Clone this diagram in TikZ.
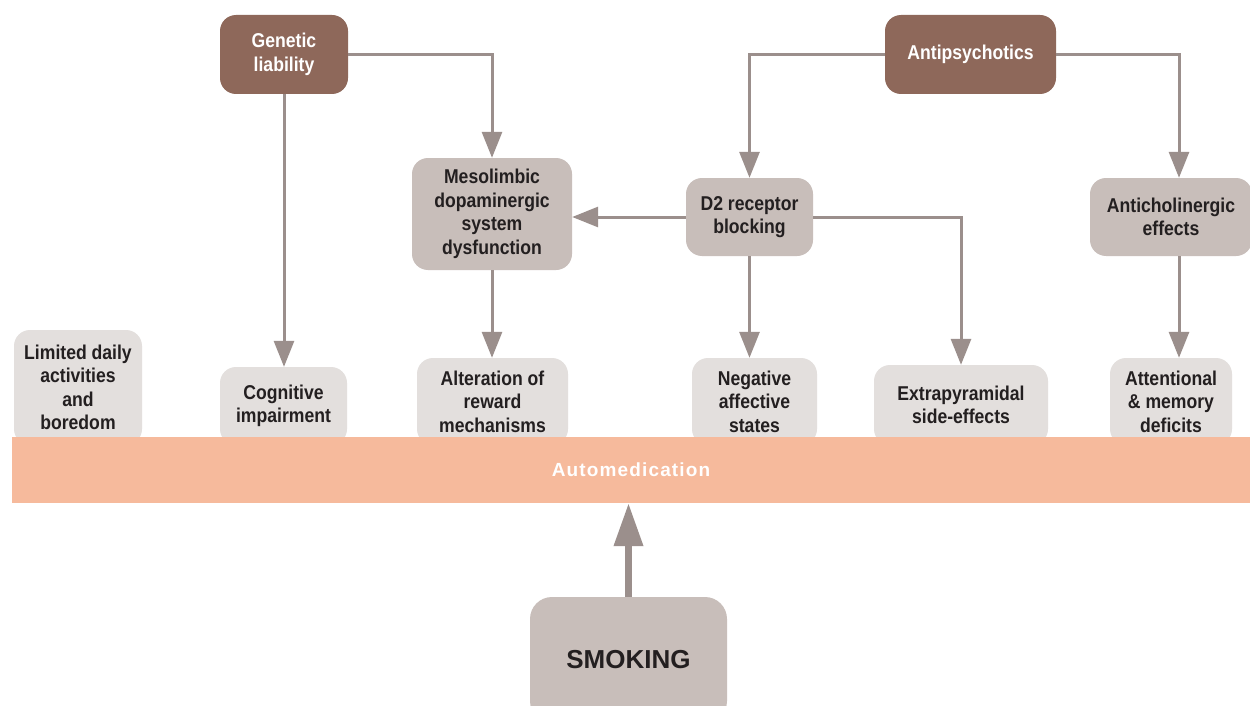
\documentclass[tikz,border=0pt]{standalone}
\usepackage{fontspec}
\setmainfont{Liberation Sans}
\newfontfamily\nf[FakeStretch=0.88]{Liberation Sans}
\newfontfamily\bandfont[LetterSpace=6]{Liberation Sans}
\usetikzlibrary{arrows.meta}
\definecolor{brownbox}{HTML}{8E685A}
\definecolor{midgray}{HTML}{C8BEBA}
\definecolor{lightgray}{HTML}{E3DFDD}
\definecolor{bandcol}{HTML}{F6BA9C}
\definecolor{linecol}{HTML}{9B8F8C}
\definecolor{textdark}{HTML}{231F20}
\begin{document}
\begin{tikzpicture}[x=1pt,y=-1pt,
  box/.style={rounded corners=16pt, align=center, inner sep=0pt,
    font=\nf\bfseries\fontsize{20}{23.5}\selectfont, text=textdark},
  dark/.style={box, fill=brownbox, text=white},
  mid/.style={box, fill=midgray},
  light/.style={box, fill=lightgray},
  conn/.style={draw=linecol, line width=3pt, -{Triangle[length=26pt,width=20pt]}},
]
\clip (0,0) rectangle (1250,706);
\fill[white] (0,0) rectangle (1250,706);

% top level
\node[dark, minimum width=128, minimum height=79] (gen) at (284,54.5) {Genetic\\liability};
\node[dark, minimum width=171, minimum height=79] (anti) at (970.5,54.5) {Antipsychotics};

% middle level
\node[mid, minimum width=160, minimum height=112] (meso) at (492,214) {Mesolimbic\\dopaminergic\\system\\dysfunction};
\node[mid, minimum width=127, minimum height=78] (d2) at (749.5,217) {D2 receptor\\blocking};
\node[mid, minimum width=162, minimum height=78] (acho) at (1171,217) {Anticholinergic\\effects};

% bottom level
\node[light, minimum width=128, minimum height=115] (lim) at (78,387.5) {Limited daily\\activities\\and\\boredom};
\node[light, minimum width=127, minimum height=78] (cog) at (283.5,406) {Cognitive\\impairment};
\node[light, minimum width=151, minimum height=87] (alt) at (492.5,401.5) {Alteration of\\reward\\mechanisms};
\node[light, minimum width=125, minimum height=87] (neg) at (754.5,401.5) {Negative\\affective\\states};
\node[light, minimum width=174, minimum height=80] (ext) at (961,405) {Extrapyramidal\\side-effects};
\node[light, minimum width=122, minimum height=87] (att) at (1171,401.5) {Attentional\\\& memory\\deficits};

% band
\node[fill=bandcol, minimum width=1238, minimum height=66, inner sep=0pt, text=white,
  font=\bandfont\bfseries\fontsize{19}{21}\selectfont] (band) at (631,470) {Automedication};

% smoking
\node[mid, minimum width=197, minimum height=126, rounded corners=22pt,
  font=\bfseries\fontsize{26}{30}\selectfont] (smoke) at (628.5,660) {SMOKING};

% connectors
\draw[conn] (gen.east) -| (meso.north);
\draw[conn] (gen.south) -- (gen.south |- cog.north);
\draw[conn] (anti.west) -| (d2.north);
\draw[conn] (anti.east) -| ([xshift=8pt]acho.north);
\draw[conn] (d2.west) -- (d2.west -| meso.east);
\draw[conn] (d2.south) -- (d2.south |- neg.north);
\draw[conn] (d2.east) -| (ext.north);
\draw[conn] (meso.south) -- (meso.south |- alt.north);
\draw[conn] ([xshift=8pt]acho.south) -- ([xshift=8pt]acho.south |- att.north);
\draw[draw=linecol, line width=7pt, -{Triangle[length=43pt,width=28pt]}] (smoke.north) -- (smoke.north |- band.south);
\end{tikzpicture}
\end{document}
